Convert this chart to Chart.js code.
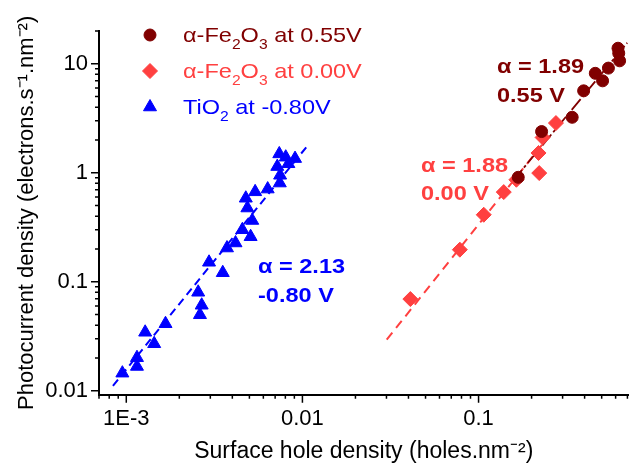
<!DOCTYPE html>
<html>
<head>
<meta charset="utf-8">
<script src="https://cdn.jsdelivr.net/npm/chart.js@4.4.1/dist/chart.umd.min.js"></script>
<style>
  html, body { margin: 0; padding: 0; background: #fff; }
</style>
</head>
<body>
<canvas id="graph" width="637" height="466"></canvas>
<script>
// surface hole density (holes.nm-2) -> photocurrent density (electrons.s-1.nm-2)
const fe055X = [0.168, 0.228, 0.340, 0.395, 0.506, 0.460, 0.546, 0.632, 0.625, 0.619];
const fe055Y = [0.909, 2.39, 3.23, 5.65, 6.98, 8.18, 9.13, 10.65, 12.5, 13.9];

const fe000X = [0.041, 0.0783, 0.107, 0.139, 0.164, 0.221, 0.219, 0.231, 0.275];
const fe000Y = [0.0694, 0.197, 0.412, 0.665, 0.863, 0.994, 1.52, 2.11, 2.86];

const tio2X = [0.00095, 0.00115, 0.00115, 0.00128, 0.00144, 0.00167, 0.00256, 0.00268, 0.00262,
  0.00295, 0.00353, 0.00373, 0.00417, 0.00456, 0.00508, 0.00519, 0.00487, 0.00477, 0.00539,
  0.00635, 0.00744, 0.00747, 0.0072, 0.00739, 0.00804, 0.00908, 0.00832];
const tio2Y = [0.0145, 0.0201, 0.0167, 0.0344, 0.0270, 0.0412, 0.0801, 0.0609, 0.0498,
  0.151, 0.121, 0.204, 0.227, 0.300, 0.259, 0.365, 0.475, 0.584, 0.669,
  0.709, 0.805, 0.949, 1.14, 1.49, 1.39, 1.35, 1.21];

// power law fits, end points
const fe055FitX = [0.157, 0.698];
const fe055FitY = [0.845, 15.6];
const fe000FitX = [0.0301, 0.237];
const fe000FitY = [0.0294, 1.93];
const tio2FitX = [0.00084, 0.0108];
const tio2FitY = [0.0111, 1.81];

const xTicks = [0.001, 0.01, 0.1];
const xTickLabels = ['1E-3', '0.01', '0.1'];
const yTicks = [0.01, 0.1, 1, 10];
const yTickLabels = ['0.01', '0.1', '1', '10'];

const FONT = 'Arial, "Liberation Sans", sans-serif';
const darkRed = '#800000';
const red = '#ff4040';
const blue = '#0000ff';
const STRETCH = 1.12; // text in the picture is a bit wide

function pts(xs, ys) {
  return xs.map((x, i) => ({ x: x, y: ys[i] }));
}

// "_2" -> subscript 2
function richText(ctx, str, x, y, size, weight) {
  ctx.save();
  ctx.translate(x, y);
  ctx.scale(STRETCH, 1);
  let cx = 0;
  str.split(/_(\d)/).forEach((p, i) => {
    const sub = i % 2 === 1;
    ctx.font = weight + ' ' + (sub ? Math.round(size * 0.65) : size) + 'px ' + FONT;
    ctx.fillText(p, cx, sub ? size * 0.33 : 0);
    cx += ctx.measureText(p).width;
  });
  ctx.restore();
}

const tickMarks = {
  id: 'tickMarks',
  afterDraw(chart) {
    const { ctx, chartArea: a, scales: { x, y } } = chart;
    ctx.save();
    ctx.strokeStyle = '#000';
    ctx.lineWidth = 1.5;
    ctx.beginPath();
    for (let e = -4; e <= 1; e++) {
      for (let m = 1; m < 10; m++) {
        const v = m * Math.pow(10, e);
        const len = m === 1 ? 8 : 4;
        if (v >= x.min && v <= x.max) {
          const px = x.getPixelForValue(v);
          ctx.moveTo(px, a.bottom);
          ctx.lineTo(px, a.bottom + len);
        }
        if (v >= y.min && v <= y.max) {
          const py = y.getPixelForValue(v);
          ctx.moveTo(a.left, py);
          ctx.lineTo(a.left - len, py);
        }
      }
    }
    ctx.stroke();
    ctx.restore();
  }
};

const notes = [
  { text: 'α = 1.89', x: 497, y: 73, color: darkRed },
  { text: '0.55 V', x: 497, y: 102, color: darkRed },
  { text: 'α = 1.88', x: 421, y: 172, color: red },
  { text: '0.00 V', x: 421, y: 200, color: red },
  { text: 'α = 2.13', x: 258, y: 273, color: blue },
  { text: '-0.80 V', x: 258, y: 302, color: blue }
];

const legendAndNotes = {
  id: 'legendAndNotes',
  afterDraw(chart) {
    const ctx = chart.ctx;
    ctx.save();
    ctx.textBaseline = 'alphabetic';
    ctx.textAlign = 'left';
    // legend, first three datasets
    chart.data.datasets.slice(0, 3).forEach((ds, i) => {
      const my = 35 + i * 36;
      ctx.fillStyle = ds.backgroundColor;
      ctx.strokeStyle = ds.borderColor;
      ctx.lineWidth = 1;
      Chart.helpers.drawPoint(ctx, { pointStyle: ds.pointStyle, radius: ds.pointRadius, rotation: 0, borderWidth: 1 }, 150, my);
      ctx.fillStyle = ds.backgroundColor;
      richText(ctx, ds.label, 183, my + 7, 21, 'normal');
    });
    notes.forEach(n => {
      ctx.fillStyle = n.color;
      richText(ctx, n.text, n.x, n.y, 21, 'bold');
    });
    ctx.restore();
  }
};

const ctx = document.getElementById('graph').getContext('2d');
const chart = new Chart(ctx, {
  type: 'scatter',
  data: {
    datasets: [
      { label: 'α-Fe_2O_3 at 0.55V', data: pts(fe055X, fe055Y), pointStyle: 'circle', pointRadius: 6,
        backgroundColor: darkRed, borderColor: darkRed, borderWidth: 1, order: 1 },
      { label: 'α-Fe_2O_3 at 0.00V', data: pts(fe000X, fe000Y), pointStyle: 'rectRot', pointRadius: 7.5,
        backgroundColor: red, borderColor: red, borderWidth: 1, order: 1 },
      { label: 'TiO_2 at -0.80V', data: pts(tio2X, tio2Y), pointStyle: 'triangle', pointRadius: 7.5,
        backgroundColor: blue, borderColor: blue, borderWidth: 1, order: 1 },
      { type: 'line', label: 'fit 0.55V', data: pts(fe055FitX, fe055FitY), borderColor: darkRed, borderWidth: 1.8,
        borderDash: [14, 3, 3, 3], pointRadius: 0, showLine: true, order: 2 },
      { type: 'line', label: 'fit 0.00V', data: pts(fe000FitX, fe000FitY), borderColor: red, borderWidth: 2,
        borderDash: [9, 6], pointRadius: 0, showLine: true, order: 3 },
      { type: 'line', label: 'fit -0.80V', data: pts(tio2FitX, tio2FitY), borderColor: blue, borderWidth: 2,
        borderDash: [8, 5], pointRadius: 0, showLine: true, order: 3 }
    ]
  },
  options: {
    responsive: false,
    animation: false,
    layout: { padding: { top: 31, right: 0, bottom: 0, left: 0 } },
    plugins: { legend: { display: false }, tooltip: { enabled: false } },
    scales: {
      x: {
        type: 'logarithmic', position: 'bottom', min: 0.0007, max: 0.71,
        afterBuildTicks: s => { s.ticks = xTicks.map(v => ({ value: v })); },
        afterFit: s => { s.height = 71.3; },
        grid: { display: false, drawTicks: false },
        border: { color: '#000', width: 2 },
        ticks: {
          autoSkip: false, maxRotation: 0, padding: 11, color: '#000',
          font: { family: FONT, size: 22 },
          callback: v => xTickLabels[xTicks.indexOf(v)]
        },
        title: {
          display: true, text: 'Surface hole density (holes.nm⁻²)', color: '#000',
          font: { family: FONT, size: 23 }, padding: { top: 0, bottom: 1 }
        }
      },
      y: {
        type: 'logarithmic', position: 'left', min: 0.0092, max: 20,
        afterBuildTicks: s => { s.ticks = yTicks.map(v => ({ value: v })); },
        afterFit: s => { s.width = 99; },
        grid: { display: false, drawTicks: false },
        border: { color: '#000', width: 2 },
        ticks: {
          autoSkip: false, padding: 11, color: '#000',
          font: { family: FONT, size: 22 },
          callback: v => yTickLabels[yTicks.indexOf(v)]
        },
        title: {
          display: true, text: 'Photocurrent density (electrons.s⁻¹.nm⁻²)', color: '#000',
          font: { family: FONT, size: 22 }, padding: { top: 14, bottom: 0 }
        }
      }
    }
  },
  plugins: [tickMarks, legendAndNotes]
});
</script>
</body>
</html>
